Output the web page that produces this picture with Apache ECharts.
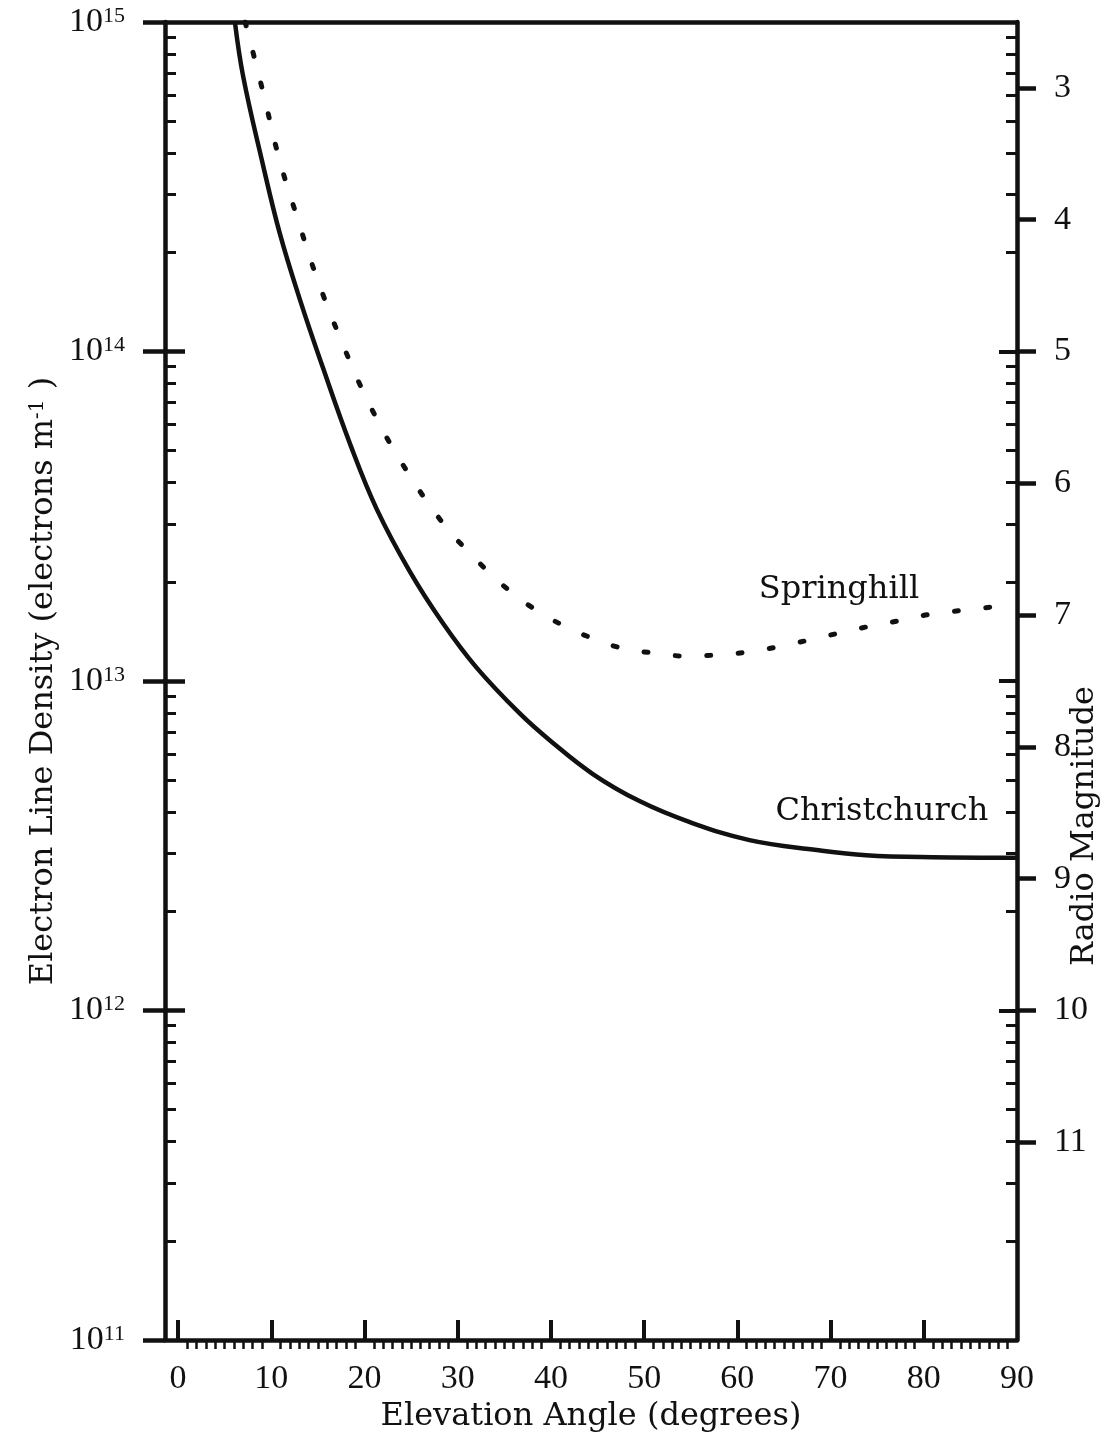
<!DOCTYPE html>
<html>
<head>
<meta charset="utf-8">
<script src="https://cdn.jsdelivr.net/npm/echarts@6/dist/echarts.min.js"></script>
<style>
  html, body { margin: 0; padding: 0; background: #fff; }
  #chart { width: 1109px; height: 1432px; }
</style>
</head>
<body>
<div id="chart"></div>
<script>
// values: elevation angle (deg) vs electron line density (electrons/m)
const christchurchAngle = [6.1, 7.0, 9.0, 10.9, 13.1, 15.5, 18.5, 21.3, 24.9, 28.4, 32.0, 36.6, 39.9, 44.5, 49.5, 54.9, 61.3, 68.5, 73.8, 80.9, 90];
const christchurchDensity = [1.0e15, 6.8e14, 3.8e14, 2.29e14, 1.43e14, 9.0e13, 5.2e13, 3.33e13, 2.14e13, 1.5e13, 1.1e13, 8.0e12, 6.6e12, 5.22e12, 4.32e12, 3.73e12, 3.29e12, 3.07e12, 2.96e12, 2.92e12, 2.91e12];

const springhillAngle = [7.2, 9.2, 10.8, 12.8, 14.9, 17.5, 20.4, 24.0, 28.5, 31.4, 34.7, 38.0, 41.4, 44.7, 48.0, 51.2, 54.5, 57.9, 61.1, 64.4, 67.6, 71.0, 74.4, 77.7, 81.0, 84.3, 87.7, 90];
const springhillDensity = [1.0e15, 6.0e14, 3.89e14, 2.54e14, 1.67e14, 1.08e14, 7.03e13, 4.59e13, 2.99e13, 2.43e13, 1.97e13, 1.67e13, 1.47e13, 1.34e13, 1.25e13, 1.216e13, 1.19e13, 1.2e13, 1.225e13, 1.27e13, 1.33e13, 1.4e13, 1.47e13, 1.53e13, 1.6e13, 1.64e13, 1.68e13, 1.69e13];

const xLabels = [0, 10, 20, 30, 40, 50, 60, 70, 80, 90];
const xMajorTicks = [0, 10, 20, 30, 40, 50, 60, 70, 80];
const decades = [1e11, 1e12, 1e13, 1e14, 1e15];
const innerDecades = [1e12, 1e13, 1e14];
const magnitudes = [3, 4, 5, 6, 7, 8, 9, 10, 11];

// minor ticks: every degree, and 2..9 in each decade
const xMinorTicks = [];
for (let d = 1; d < 90; d++) if (d % 10 !== 0) xMinorTicks.push(d);
const logMinorTicks = [];
for (let e = 11; e < 15; e++) for (let k = 2; k <= 9; k++) logMinorTicks.push(k * Math.pow(10, e));

// a hair above 1e15 so the top decade tick survives float rounding in log10
const yMin = 1e11, yMax = 1.000001e15;

const ink = '#111';
const textFont = '"DejaVu Serif", serif';
const numFont = '"Liberation Serif", serif';

const chart = echarts.init(document.getElementById('chart'));

const hidden = { show: false };
function tickAxis(extra) {
  return Object.assign({
    axisLine: hidden, axisLabel: hidden, splitLine: hidden
  }, extra);
}
function line(w) {
  return { show: true, onZero: false, lineStyle: { color: ink, width: w } };
}

const option = {
  animation: false,
  backgroundColor: '#fff',
  grid: { left: 165, right: 92, top: 22, bottom: 92, outerBoundsMode: 'none' },
  xAxis: [
    {
      type: 'value', min: -1.4, max: 90, position: 'bottom',
      axisLine: line(4.5),
      axisTick: { show: true, inside: true, length: 20, customValues: xMajorTicks, lineStyle: { color: ink, width: 4 } },
      axisLabel: { show: true, customValues: xLabels, margin: 22, color: ink, fontFamily: numFont, fontSize: 34 },
      splitLine: hidden,
      name: 'Elevation Angle (degrees)', nameLocation: 'middle', nameGap: 61, nameMoveOverlap: false,
      nameTextStyle: { color: ink, fontFamily: textFont, fontSize: 32 }
    },
    tickAxis({
      type: 'value', min: -1.4, max: 90, position: 'bottom',
      axisLine: { show: false, onZero: false },
      axisTick: { show: true, inside: false, length: 9, customValues: xMinorTicks, lineStyle: { color: ink, width: 2.5 } }
    }),
    tickAxis({
      type: 'value', min: -1.4, max: 90, position: 'top',
      axisLine: line(4.5),
      axisTick: hidden
    })
  ],
  yAxis: [
    {
      type: 'log', logBase: 10, min: yMin, max: yMax, position: 'left',
      axisLine: line(4.5),
      axisTick: { show: true, inside: false, length: 22, customValues: decades, lineStyle: { color: ink, width: 4.5 } },
      axisLabel: {
        show: true, customValues: decades, margin: 40,
        formatter: v => '{b|10}{s|' + Math.round(Math.log10(v)) + '}',
        rich: {
          b: { color: ink, fontFamily: numFont, fontSize: 34 },
          s: { color: ink, fontFamily: numFont, fontSize: 22, verticalAlign: 'top' }
        }
      },
      splitLine: hidden,
      name: 'Electron Line Density (electrons m{s|-1} )', nameLocation: 'middle', nameRotate: 90, nameGap: 105,
      nameMoveOverlap: false,
      nameTextStyle: {
        color: ink, fontFamily: textFont, fontSize: 32,
        rich: { s: { color: ink, fontFamily: textFont, fontSize: 20, verticalAlign: 'top' } }
      }
    },
    tickAxis({
      type: 'log', logBase: 10, min: yMin, max: yMax, position: 'left',
      axisLine: { show: false, onZero: false },
      axisTick: { show: true, inside: true, length: 20, customValues: innerDecades, lineStyle: { color: ink, width: 4.5 } }
    }),
    tickAxis({
      type: 'log', logBase: 10, min: yMin, max: yMax, position: 'left',
      axisLine: { show: false, onZero: false },
      axisTick: { show: true, inside: true, length: 11, customValues: logMinorTicks, lineStyle: { color: ink, width: 3 } }
    }),
    tickAxis({
      type: 'log', logBase: 10, min: yMin, max: yMax, position: 'right',
      axisLine: line(4.5),
      axisTick: { show: true, inside: true, length: 11, customValues: logMinorTicks, lineStyle: { color: ink, width: 3 } }
    }),
    tickAxis({
      type: 'log', logBase: 10, min: yMin, max: yMax, position: 'right',
      axisLine: { show: false, onZero: false },
      axisTick: { show: true, inside: true, length: 18, customValues: innerDecades, lineStyle: { color: ink, width: 4 } }
    }),
    {
      // radio magnitude = 40 - 2.5 log10(q)
      type: 'value', min: 2.5, max: 12.5, inverse: true, position: 'right',
      axisLine: { show: false, onZero: false },
      axisTick: { show: true, inside: false, length: 19, customValues: magnitudes, lineStyle: { color: ink, width: 4.5 } },
      axisLabel: { show: true, customValues: magnitudes, margin: 37, color: ink, fontFamily: numFont, fontSize: 34 },
      splitLine: hidden,
      name: 'Radio Magnitude', nameLocation: 'middle', nameRotate: 90, nameGap: 52, nameMoveOverlap: false,
      nameTextStyle: { color: ink, fontFamily: textFont, fontSize: 32, padding: [0, 290, 0, 0] }
    }
  ],
  series: [
    {
      name: 'Christchurch', type: 'line', xAxisIndex: 0, yAxisIndex: 0,
      data: christchurchAngle.map((a, i) => [a, christchurchDensity[i]]),
      smooth: 0.4, showSymbol: false, symbol: 'none',
      lineStyle: { color: ink, width: 4.5 },
      markPoint: {
        symbolSize: 0,
        label: { show: true, position: 'inside', color: ink, fontFamily: textFont, fontSize: 32, formatter: 'Christchurch' },
        data: [{ coord: [75.5, 4.0e12] }]
      }
    },
    {
      name: 'Springhill', type: 'line', xAxisIndex: 0, yAxisIndex: 0,
      data: springhillAngle.map((a, i) => [a, springhillDensity[i]]),
      smooth: 0.4, showSymbol: false, symbol: 'none',
      lineStyle: { color: ink, width: 5, type: [4, 27.5], cap: 'round' },
      markPoint: {
        symbolSize: 0,
        label: { show: true, position: 'inside', color: ink, fontFamily: textFont, fontSize: 32, formatter: 'Springhill' },
        data: [{ coord: [70.9, 1.89e13] }]
      }
    }
  ]
};

chart.setOption(option);
</script>
</body>
</html>
